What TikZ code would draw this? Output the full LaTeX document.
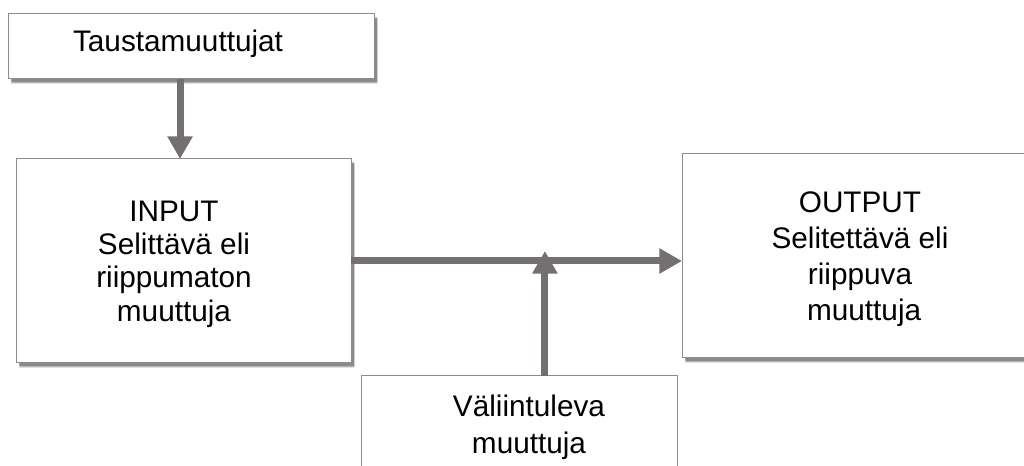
\documentclass[tikz,border=0pt]{standalone}
\usepackage{fontspec}
\setmainfont{Liberation Sans}
\usetikzlibrary{arrows.meta,shadows,calc}
\definecolor{arr}{RGB}{117,112,112}
\definecolor{bord}{RGB}{140,140,140}
\begin{document}
\begin{tikzpicture}[x=0.75pt,y=-0.75pt,
  box/.style={draw=bord,line width=0.75pt,fill=white,rectangle,inner sep=0pt,outer sep=0pt},
  shad/.style={box,
    general shadow={shadow xshift=2.2pt,shadow yshift=-3.4pt,shadow scale=1.0,opacity=0.12,fill=black},
    general shadow={shadow xshift=3pt,shadow yshift=-3pt,opacity=0.18,fill=black},
    general shadow={shadow xshift=2.4pt,shadow yshift=-2.4pt,opacity=0.25,fill=black}},
  lbl/.style={align=center,font=\fontsize{22.3}{26}\selectfont,inner sep=0pt},
  conn/.style={draw=arr,line width=5.25pt,-{Triangle[length=17pt,width=18pt]}}]
\useasboundingbox (0,0) rectangle (1024,466);
% boxes
\node[shad,minimum width=274.5pt,minimum height=48.75pt] (tausta) at (191,46.5) {};
\node[shad,minimum width=251.25pt,minimum height=153pt] (input) at (183.5,261) {};
\node[shad,minimum width=268.5pt,minimum height=153pt] (output) at (861,256) {};
\node[box,minimum width=237pt,minimum height=85.5pt] (vali) at (519,433) {};
% texts
\node[lbl] (t1) at (178,44) {Taustamuuttujat};
\node[lbl,font=\fontsize{22.3}{25}\selectfont] (t2) at (174,264) {INPUT\\Selittävä eli\\riippumaton\\muuttuja};
\node[lbl,font=\fontsize{22.3}{27}\selectfont] (t3) at (860,259) {OUTPUT\\Selitettävä eli\\riippuva\\\ muuttuja};
\node[lbl,font=\fontsize{22.3}{27.5}\selectfont] (t4) at (529,427) {Väliintuleva\\muuttuja};
% connectors
\coordinate (a1) at ($(tausta.south west)!0.47!(tausta.south east)$);
\draw[conn] (a1) -- (a1 |- input.north);
\draw[conn] (input.east) -- (input.east -| output.west);
\coordinate (a3) at ($(vali.north west)!0.582!(vali.north east)$);
\draw[conn] (a3) -- ([yshift=7.5pt]a3 |- input.east);
\end{tikzpicture}
\end{document}
